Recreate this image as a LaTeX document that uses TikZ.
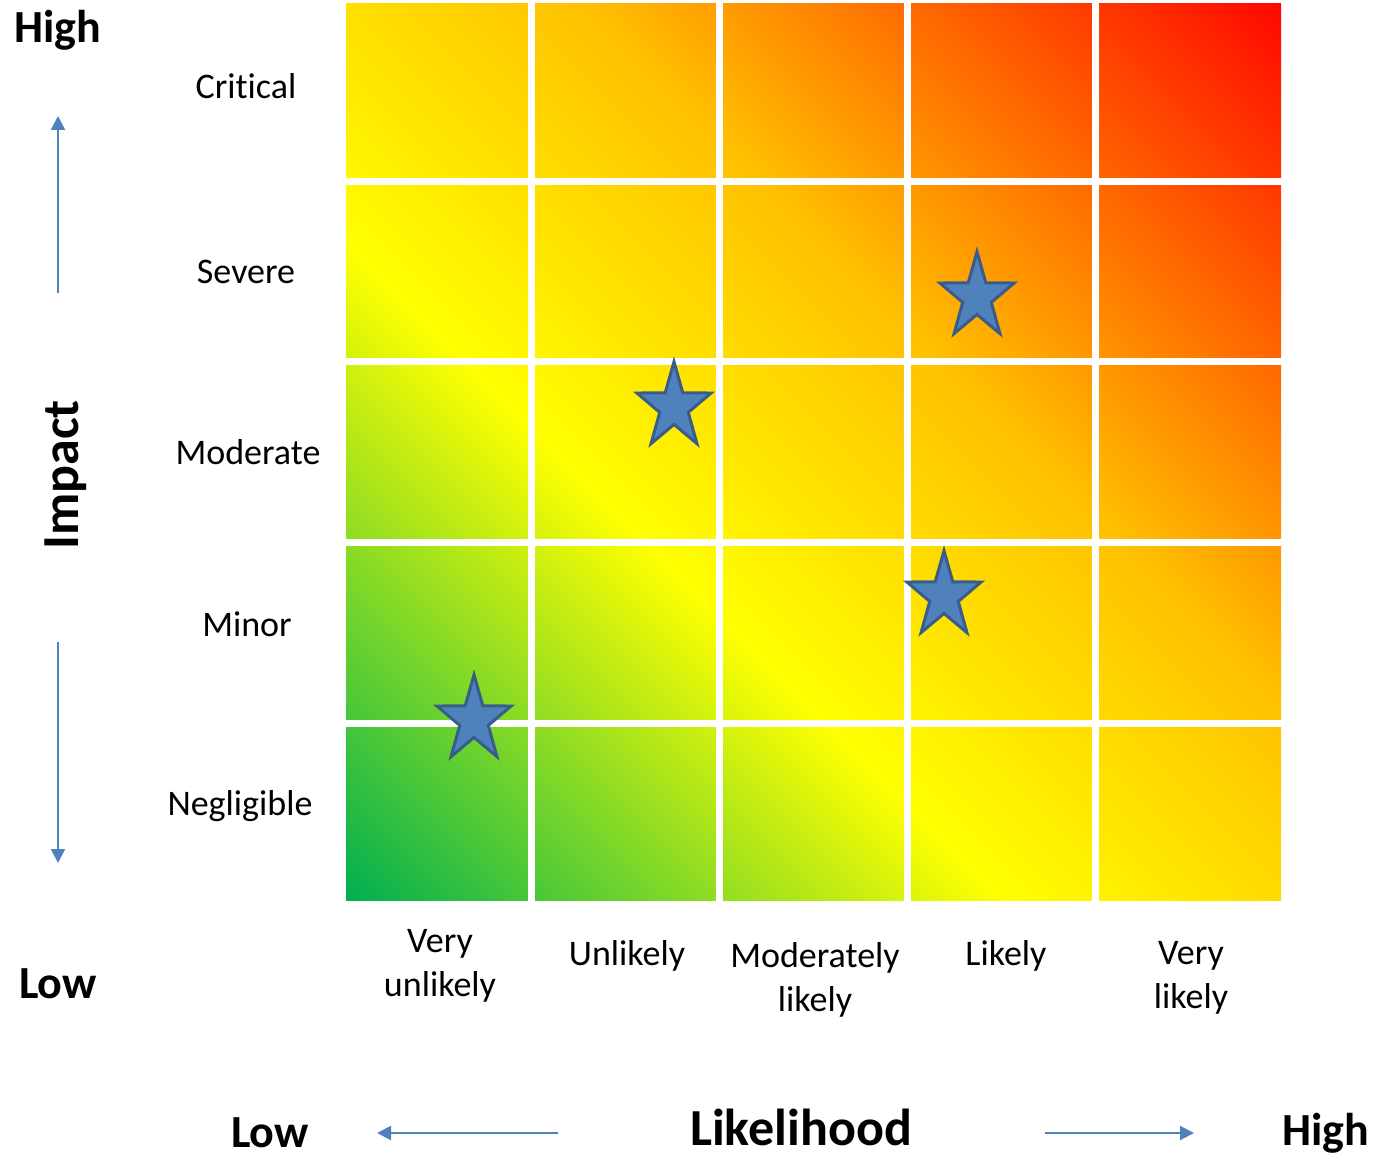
\documentclass[tikz,border=0pt]{standalone}
\usepackage{fontspec}
\setmainfont[Ligatures=NoCommon]{Carlito}
\usetikzlibrary{arrows.meta,shapes.geometric}
\definecolor{riskgreen}{RGB}{0,176,80}
\definecolor{riskorange}{RGB}{255,192,0}
\definecolor{riskred}{RGB}{255,8,0}
\definecolor{arrowblue}{RGB}{79,129,189}
\definecolor{starline}{RGB}{56,93,138}
\pgfdeclarehorizontalshading{riskgrad}{100bp}{color(0bp)=(riskgreen); color(14.6bp)=(riskgreen); color(40bp)=(yellow); color(58.5bp)=(riskorange); color(85.4bp)=(riskred); color(100bp)=(riskred)}
\tikzset{
  levellabel/.style={font=\fontsize{18bp}{22bp}\selectfont, align=center, inner sep=0pt},
  endlabel/.style={font=\fontsize{23bp}{28bp}\selectfont\bfseries, inner sep=0pt},
  axislabel/.style={font=\fontsize{26bp}{30bp}\selectfont\bfseries, inner sep=0pt},
  axisarrow/.style={draw=arrowblue, line width=1bp, -{Triangle[length=7bp,width=7bp]}},
  gridgap/.style={draw=white, line width=3.5bp},
  riskstar/.style={shape=star, star points=5, star point ratio=2.6, fill=arrowblue, draw=starline,
    line width=1.5bp, minimum size=39bp, inner sep=0pt, yscale=1.16, transform shape}
}
\begin{document}
\begin{tikzpicture}[x=0.5bp, y=-0.5bp]
        \useasboundingbox (0,0) rectangle (1377,1158);
        % risk matrix
        \coordinate (gridSW) at (346,900);
        \coordinate (gridNE) at (1281,4);
        \shade[shading=riskgrad, shading angle=45] (gridSW) rectangle (gridNE);
        \foreach \gx in {531.5,719.5,907.5,1095.5}
          \draw[gridgap] (\gx,0) -- (\gx,904);
        \foreach \gy in {181.5,361.5,543,723.5}
          \draw[gridgap] (342,\gy) -- (1285,\gy);

        % impact axis
        \path (58,30) node[endlabel] (impHigh) {High} (58,984) node[endlabel] (impLow) {Low}
          (66,475) node[axislabel, rotate=90] (impact) {Impact};
        \path (246,86) node[levellabel] (crit) {Critical} (246,272) node[levellabel] (sev) {Severe}
          (248,452) node[levellabel] (mod) {Moderate} (247,624) node[levellabel] (minor) {Minor}
          (240,806) node[levellabel] (negl) {Negligible};
        \coordinate (upS) at (58,293); \coordinate (upE) at (58,116);
        \coordinate (dnS) at (58,642); \coordinate (dnE) at (58,863);
        \draw[axisarrow] (upS) -- (upE);
        \draw[axisarrow] (dnS) -- (dnE);

        % likelihood axis
        \path (440,966) node[levellabel] (vunl) {Very\\unlikely} (627,956) node[levellabel] (unl) {Unlikely}
          (815,980) node[levellabel] (modl) {Moderately\\likely} (1006,956) node[levellabel] (lik) {Likely}
          (1191,978) node[levellabel] (vlik) {Very\\likely};
        \path (270,1147) node[endlabel, anchor=base] (likLow) {Low}
          (801,1145) node[axislabel, anchor=base] (likeli) {Likelihood}
          (1326,1145) node[endlabel, anchor=base] (likHigh) {High};
        \coordinate (ltS) at (558,1133); \coordinate (ltE) at (377,1133);
        \coordinate (rtS) at (1045,1133); \coordinate (rtE) at (1194,1133);
        \draw[axisarrow] (ltS) -- (ltE);
        \draw[axisarrow] (rtS) -- (rtE);

        % assessed risks
        \path (474,720) node[riskstar] (r1) {} (674,407) node[riskstar] (r2) {}
          (977,297) node[riskstar] (r3) {} (944,596) node[riskstar] (r4) {};
\end{tikzpicture}
\end{document}
